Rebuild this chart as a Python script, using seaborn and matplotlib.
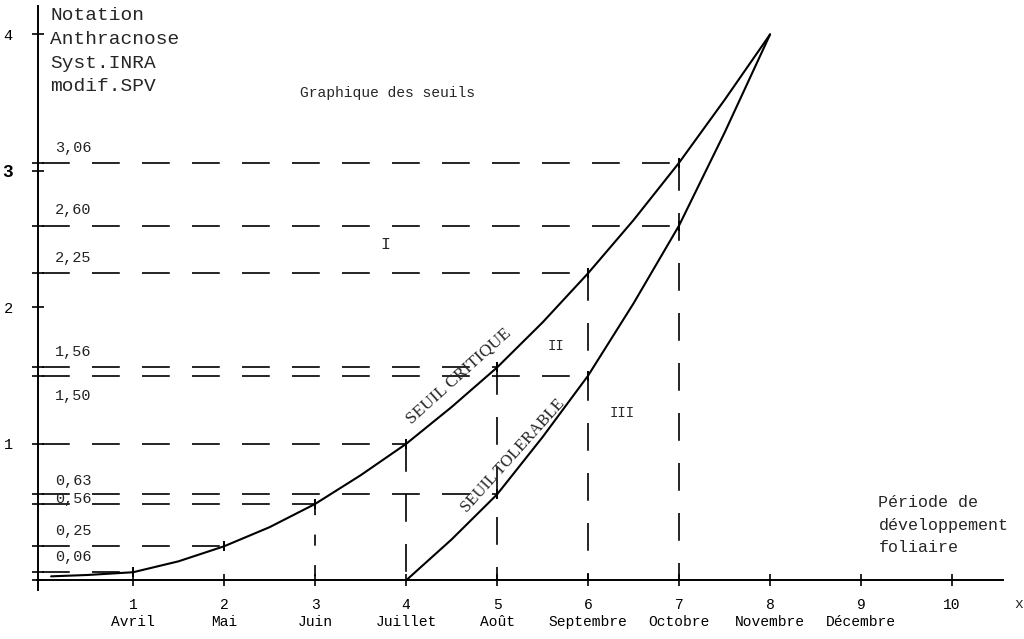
import matplotlib
matplotlib.use("Agg")
import matplotlib.pyplot as plt
import seaborn as sns
import pandas as pd

# ---- data ----
crit_x = [0.1, 0.5, 1, 1.5, 2, 2.5, 3, 3.5, 4, 4.5, 5, 5.5, 6, 6.5, 7, 7.5, 8]
crit_y = [0.03, 0.04, 0.06, 0.14, 0.25, 0.39, 0.56, 0.77, 1.0, 1.27, 1.56, 1.89,
          2.25, 2.64, 3.06, 3.52, 4.0]
tol_x = [4, 4.5, 5, 5.5, 6, 6.5, 7, 7.5, 8]
tol_y = [0.0, 0.30, 0.63, 1.05, 1.50, 2.03, 2.60, 3.28, 4.0]

h_levels = [3.06, 2.60, 2.25, 1.56, 1.50, 1.00, 0.63, 0.56, 0.25, 0.06]
h_ends = [7, 7, 6, 5, 6, 4, 5, 3, 2, 1]
level_labels = ["3,06", "2,60", "2,25", "1,56", "1,50", None, "0,63", "0,56", "0,25", "0,06"]
v_x = [3, 4, 5, 6, 7]
v_top = [0.56, 1.00, 1.56, 2.25, 3.06]

x_ticks = [1, 2, 3, 4, 5, 6, 7, 8, 9, 10]
months = ["Avril", "Mai", "Juin", "Juillet", "Août", "Septembre", "Octobre",
          "Novembre", "Décembre", ""]
y_ticks = [1, 2, 3, 4]

sns.set_theme(style="white")
plt.rcParams['font.family'] = ['Liberation Mono', 'DejaVu Sans Mono']
plt.rcParams['lines.scale_dashes'] = False

fig = plt.figure(figsize=(10.24, 6.39), dpi=100)
ax = fig.add_axes([0, 0, 1, 1])
ax.set_xlim(-0.4615, 10.79)
ax.set_ylim(-0.429, 4.252)

# curves
df_c = pd.DataFrame({"x": crit_x, "y": crit_y})
df_t = pd.DataFrame({"x": tol_x, "y": tol_y})
sns.lineplot(data=df_c, x="x", y="y", ax=ax, color="black", lw=1.5, sort=False)
sns.lineplot(data=df_t, x="x", y="y", ax=ax, color="black", lw=1.5, sort=False)

dash = (0, (20, 16))
for lv, xe in zip(h_levels, h_ends):
    ax.plot([0.0, xe], [lv, lv], color="black", lw=1.2, linestyle=dash)
for xv, yt in zip(v_x, v_top):
    ls = (0, (8, 14)) if xv == 3 else dash
    ax.plot([xv, xv], [yt, 0], color="black", lw=1.2, linestyle=ls)

# small arrow marks at the meeting points
pts_x = [1, 2, 3, 4, 5, 6, 7, 5, 6, 7]
pts_y = [0.06, 0.25, 0.56, 1.0, 1.56, 2.25, 3.06, 0.63, 1.50, 2.60]
ax.scatter(pts_x, pts_y, marker="|", s=60, color="black", linewidths=1.4, zorder=3)

# level labels
for lv, lab in zip(h_levels, level_labels):
    if lab is None:
        continue
    if lab == "1,50":
        yy = lv - 0.15
    elif lab == "0,56":
        yy = lv + 0.04
    elif lab == "0,63":
        yy = lv + 0.10
    else:
        yy = lv + 0.11
    ax.text(0.14, yy, lab, fontsize=11, ha="left", va="center", color="#222222")

# axes / spines
for s in ["top", "right"]:
    ax.spines[s].set_visible(False)
ax.spines["left"].set_position(("data", -0.04))
ax.spines["bottom"].set_position(("data", 0))
ax.spines["left"].set_bounds(-0.07, 4.21)
ax.spines["bottom"].set_bounds(-0.05, 10.56)
for s in ["left", "bottom"]:
    ax.spines[s].set_color("black")
    ax.spines[s].set_linewidth(1.4)

ax.set_xticks(x_ticks)
ax.set_xticklabels([f"{t}\n{m}" for t, m in zip(x_ticks, months)], fontsize=10.5,
                   linespacing=1.3)
ax.set_yticks(y_ticks)
ax.set_yticklabels([str(t) for t in y_ticks], fontsize=11)
for lab in ax.get_yticklabels():
    if lab.get_text() == "3":
        lab.set_fontweight("bold")
        lab.set_fontsize(13)
ax.set_yticks(h_levels + [0.0], minor=True)
ax.tick_params(axis="both", which="major", direction="inout", length=9, width=1.2,
               colors="black", bottom=True, left=True)
ax.tick_params(axis="y", which="major", pad=14)
ax.tick_params(axis="x", which="major", pad=8)
ax.tick_params(axis="y", which="minor", direction="inout", length=8, width=1.2,
               colors="black", left=True)
ax.set_xlabel("")
ax.set_ylabel("")

# texts
ax.text(0.09, 4.20, "Notation\nAnthracnose\nSyst.INRA\nmodif.SPV", fontsize=14,
        ha="left", va="top", linespacing=1.52)
ax.text(2.84, 3.57, "Graphique des seuils", fontsize=10.5, ha="left", va="center")
ax.text(9.19, 0.625, "Période de\ndéveloppement\nfoliaire", fontsize=12, ha="left",
        va="top", linespacing=1.62)
ax.text(10.73, -0.17, "x", fontsize=10.5, ha="center", va="center")
ax.text(3.77, 2.46, "I", fontsize=12, ha="center", va="center")
ax.text(5.65, 1.72, "II", fontsize=10, ha="center", va="center")
ax.text(6.37, 1.23, "III", fontsize=10, ha="center", va="center")
ax.text(4.58, 1.50, "SEUIL CRITIQUE", fontsize=12.5, rotation=42, ha="center",
        va="center", family="Liberation Serif", rotation_mode="anchor")
ax.text(5.18, 0.91, "SEUIL TOLERABLE", fontsize=12, rotation=48, ha="center",
        va="center", family="Liberation Serif", rotation_mode="anchor")

fig.savefig("out.png", dpi=100, facecolor="white")
